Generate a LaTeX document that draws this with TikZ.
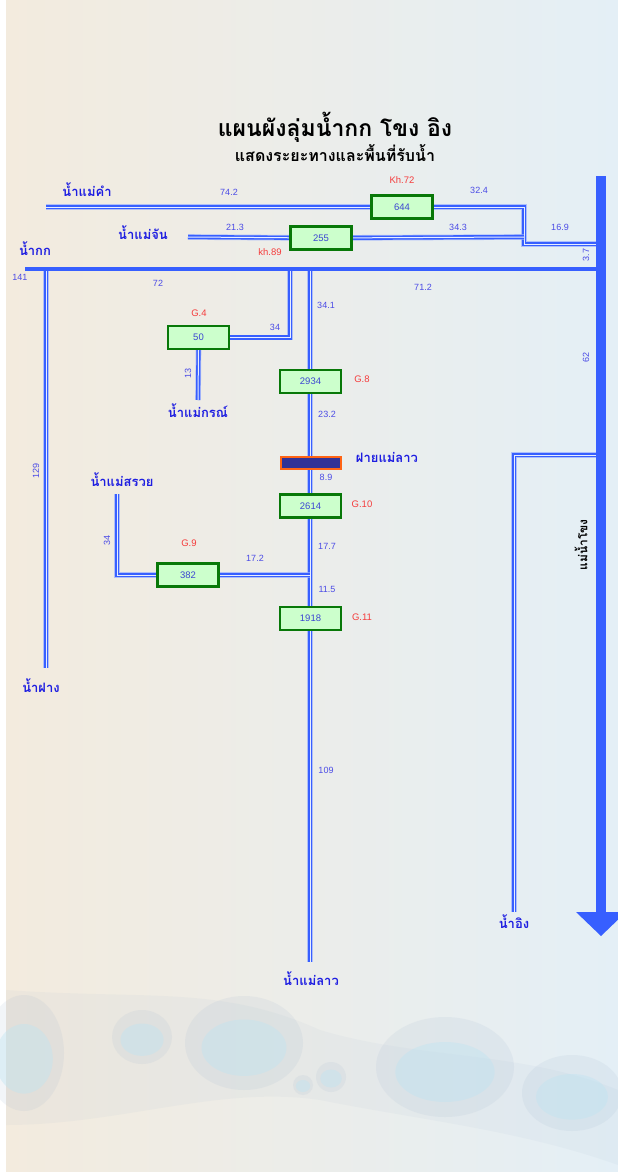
\documentclass[tikz,border=0pt]{standalone}
\usepackage{fontspec}
\setmainfont{Liberation Sans}
\newfontfamily\thai[Script=Thai]{Loma}
\definecolor{rivblue}{RGB}{55,95,255}
\definecolor{rivhalo}{RGB}{150,172,255}
\definecolor{rivinner}{RGB}{232,238,255}
\definecolor{boxfill}{RGB}{204,255,204}
\definecolor{boxgreen}{RGB}{8,120,8}
\definecolor{numblue}{RGB}{60,70,210}
\definecolor{distblue}{RGB}{75,75,230}
\definecolor{gred}{RGB}{245,60,60}
\definecolor{namblue}{RGB}{30,30,225}
\definecolor{weirnavy}{RGB}{50,50,150}
\definecolor{weirorange}{RGB}{255,100,20}
\definecolor{bgl}{RGB}{243,235,222}
\definecolor{bgr}{RGB}{228,239,246}
\definecolor{bub}{RGB}{160,180,205}
\definecolor{bubin}{RGB}{190,228,242}
\tikzset{
  river/.style={preaction={draw=rivhalo, line width=5.6pt, opacity=.7}, draw=rivblue, line width=1.6pt, double=rivinner, double distance=1.0pt, line join=miter},
  mainriv/.style={draw=rivblue, line width=4pt},
  boxn/.style={draw=boxgreen, line width=2.4pt, fill=boxfill, minimum width=61pt, minimum height=23pt, inner sep=0pt, text=numblue, font=\fontsize{9.5}{10}\selectfont},
  dist/.style={text=distblue, font=\fontsize{9}{10}\selectfont, inner sep=0pt},
  gtxt/.style={text=gred, font=\fontsize{9.5}{10}\selectfont, inner sep=0pt},
  rname/.style={text=namblue, font=\thai\bfseries\fontsize{13}{14}\selectfont, inner sep=0pt},
}
\begin{document}
\begin{tikzpicture}[x=1pt,y=-1pt]
\useasboundingbox (0,0) rectangle (618,1172);
\fill[white] (0,0) rectangle (618,1172);
\shade[left color=bgl, right color=bgr] (6,0) rectangle (618,1172);
% water bubbles (faint background decoration)
\fill[bub, opacity=.08] (6,990) .. controls (150,1000) and (220,985) .. (320,1030) .. controls (420,1060) and (520,1050) .. (618,1090) -- (618,1165) .. controls (520,1130) and (420,1120) .. (320,1100) .. controls (220,1085) and (120,1125) .. (6,1125) -- cycle;
\foreach \cx/\cy/\rx/\ry in {24/1053/40/58, 142/1037/30/27, 244/1043/59/47, 303/1085/10/10, 331/1077/15/15, 445/1067/69/50, 572/1093/50/38}{
  \fill[bub, opacity=.13] (\cx,\cy) ellipse [x radius=\rx, y radius=\ry];
  \fill[bubin, opacity=.4] (\cx,\cy+0.1*\ry) ellipse [x radius=\rx*0.72, y radius=\ry*0.6];
}
% title
\node[font=\thai\bfseries\fontsize{23}{25}\selectfont] (title) at (335,127) {แผนผังลุ่มน้ำกก โขง อิง};
\node[font=\thai\bfseries\fontsize{16}{18}\selectfont] (subtitle) at (335,153) {แสดงระยะทางและพื้นที่รับน้ำ};
% junction coordinates
\coordinate (khamS) at (46,207);
\coordinate (khamT) at (524,207);
\coordinate (khamB) at (524,244);
\coordinate (khamE) at (596,244);
\coordinate (chanS) at (188,237);
\coordinate (chanE) at (524,237);
\coordinate (kokW) at (25,269);
\coordinate (kokE) at (596,269);
\coordinate (fangT) at (46,269);
\coordinate (fangB) at (46,668);
\coordinate (kornT) at (290,269);
\coordinate (kornB) at (198,400);
\coordinate (laoT) at (310,269);
\coordinate (laoJ) at (310,575);
\coordinate (laoB) at (310,962);
\coordinate (suaiT) at (117,494);
\coordinate (suaiC) at (117,575);
\coordinate (ingT) at (596,455);
\coordinate (ingC) at (514,455);
\coordinate (ingB) at (514,912);
\coordinate (mekT) at (601,176);
\coordinate (mekB) at (601,912);
% boxes (positions)
\node[boxn] (b644) at (402,207) {644};
\node[boxn] (b255) at (321,238) {255};
\node[boxn] (b50) at (198.5,337.5) {50};
\node[boxn] (b2934) at (310.5,381.5) {2934};
\node[boxn] (b2614) at (310.5,506) {2614};
\node[boxn] (b382) at (188,575) {382};
\node[boxn] (b1918) at (310.5,618.5) {1918};
% rivers
\draw[river] (khamS) -- (b644) -- (khamT) -- (khamB) -- (khamE);
\draw[river] (chanS) -- (b255) -- (chanE);
\draw[river] (fangT) -- (fangB);
\draw[river] (kornT) |- (b50.east);
\draw[river] (b50.south) -- (kornB);
\draw[river] (laoT) -- (laoB);
\draw[river] (suaiT) -- (suaiC) -- (b382) -- (laoJ);
\draw[river] (ingT) -- (ingC) -- (ingB);
\draw[mainriv] (kokW) -- (kokE);
\draw[rivblue, line width=10pt] (mekT) -- (mekB);
\fill[rivblue] (576,912) -- (626,912) -- (601,936) -- cycle;
% boxes drawn on top of the rivers
\foreach \n/\t in {b644/644, b255/255, b50/50, b2934/2934, b2614/2614, b382/382, b1918/1918}{
  \node[boxn] at (\n) {\t};
}
% weir
\node[draw=weirorange, line width=2pt, fill=weirnavy, minimum width=60pt, minimum height=12pt, inner sep=0pt] (weir) at (310.5,462.5) {};
% river names
\node[rname] (nkham) at (87,190) {น้ำแม่คำ};
\node[rname] (nchan) at (143,233) {น้ำแม่จัน};
\node[rname] (nkok) at (35,249) {น้ำกก};
\node[rname] (nkorn) at (198,411) {น้ำแม่กรณ์};
\node[rname] (nweir) at (387,457) {ฝายแม่ลาว};
\node[rname] (nsuai) at (122,480) {น้ำแม่สรวย};
\node[rname] (nfang) at (41,686) {น้ำฝาง};
\node[rname] (nlao) at (311,979) {น้ำแม่ลาว};
\node[rname] (ning) at (514,922) {น้ำอิง};
\node[font=\thai\bfseries\fontsize{12}{13}\selectfont, rotate=90] (nmek) at (581,545) {แม่น้ำโขง};
% distances
\node[dist] (d1) at (229,192) {74.2};
\node[dist] (d2) at (479,190) {32.4};
\node[dist] (d3) at (560,227) {16.9};
\node[dist] (d4) at (235,227) {21.3};
\node[dist] (d5) at (458,227) {34.3};
\node[dist, rotate=90] (d6) at (586,255) {3.7};
\node[dist] (d7) at (20,277) {141};
\node[dist] (d8) at (158,283) {72};
\node[dist] (d9) at (423,287) {71.2};
\node[dist, rotate=90] (d10) at (586,357) {62};
\node[dist] (d11) at (275,327) {34};
\node[dist, rotate=90] (d12) at (188,373) {13};
\node[dist] (d13) at (326,305) {34.1};
\node[dist] (d14) at (327,414) {23.2};
\node[dist] (d15) at (326,477) {8.9};
\node[dist] (d16) at (327,546) {17.7};
\node[dist] (d17) at (327,589) {11.5};
\node[dist] (d18) at (326,770) {109};
\node[dist, rotate=90] (d19) at (107,540) {34};
\node[dist] (d20) at (255,558) {17.2};
\node[dist, rotate=90] (d21) at (36,471) {129};
% gauge labels
\node[gtxt] (g1) at (402,180) {Kh.72};
\node[gtxt] (g2) at (270,252) {kh.89};
\node[gtxt] (g3) at (199,313) {G.4};
\node[gtxt] (g4) at (362,379) {G.8};
\node[gtxt] (g5) at (362,504) {G.10};
\node[gtxt] (g6) at (189,543) {G.9};
\node[gtxt] (g7) at (362,617) {G.11};
\end{tikzpicture}
\end{document}
